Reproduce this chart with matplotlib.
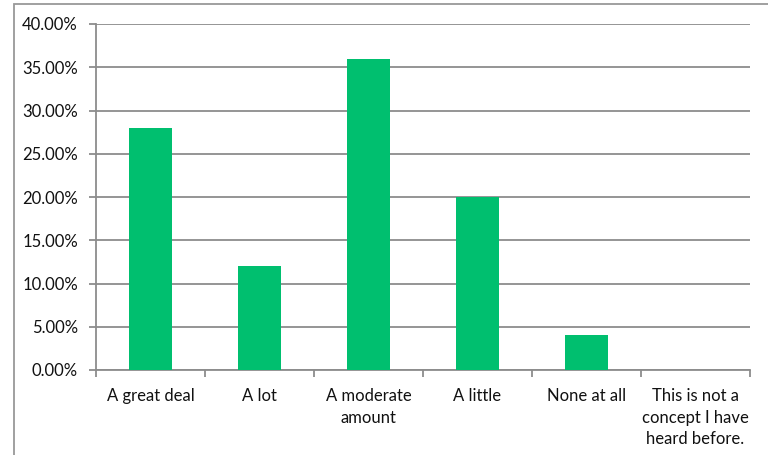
import matplotlib
matplotlib.use("Agg")
import matplotlib.pyplot as plt
from matplotlib.patches import Rectangle
from matplotlib.ticker import FuncFormatter, MultipleLocator

categories = ["A great deal", "A lot", "A moderate\namount", "A little", "None at all",
              "This is not a\nconcept I have\nheard before."]
values = [28.0, 12.0, 36.0, 20.0, 4.0, 0.0]

plt.rcParams['font.family'] = ['Lato', 'DejaVu Sans']

fig = plt.figure(figsize=(7.68, 4.55), dpi=100)
ax = fig.add_axes([96/768, 1-370/455, (750-96)/768, (370-24)/455])

x = list(range(len(categories)))
ax.bar(x, values, width=0.4, color="#00BF6F", zorder=3)

ax.set_xlim(-0.5, len(categories) - 0.5)
ax.set_ylim(0, 40)
ax.yaxis.set_major_locator(MultipleLocator(5))
ax.yaxis.set_major_formatter(FuncFormatter(lambda v, p: f"{v:.2f}%"))
ax.grid(axis="y", color="#8c8c8c", linewidth=1.3, zorder=0)

ax.set_xticks(x)
ax.set_xticklabels(categories, fontsize=12, color="#111111", linespacing=1.42)
ax.tick_params(axis="x", length=0, pad=13)
ax.set_xticks([i - 0.5 for i in range(len(categories) + 1)], minor=True)
ax.tick_params(axis="x", which="minor", length=5, color="#8c8c8c", width=1.3)
ax.tick_params(axis="y", length=5, color="#8c8c8c", width=1.3, labelsize=12, labelcolor="#111111", pad=8)

for s in ["top", "right"]:
    ax.spines[s].set_visible(False)
for s in ["left", "bottom"]:
    ax.spines[s].set_color("#8c8c8c")
    ax.spines[s].set_linewidth(1.3)

fig.patches.append(Rectangle((14/768, -0.1), 1.2, 1.1 - 4/455 + 0.0,
                             transform=fig.transFigure, fill=False,
                             edgecolor="#999999", linewidth=1.3))

fig.savefig("out.png", dpi=100)
